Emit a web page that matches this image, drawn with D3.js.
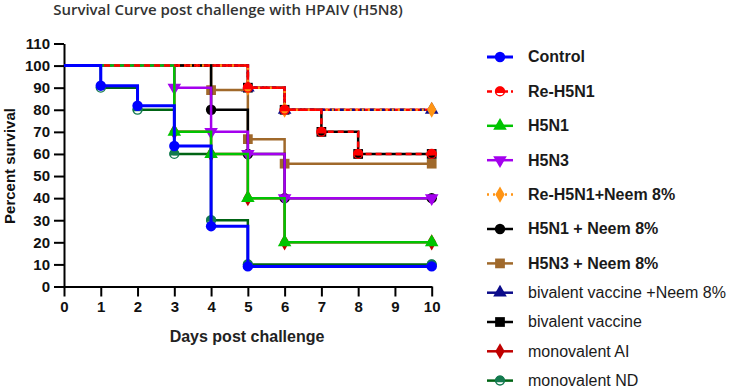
<!DOCTYPE html>
<html>
<head>
<meta charset="utf-8">
<script src="https://cdn.jsdelivr.net/npm/d3@7"></script>
<style>
  body { margin: 0; background: #fff; }
  svg { display: block; font-family: "Liberation Sans", Arial, sans-serif; }
</style>
</head>
<body>
<svg id="chart" width="729" height="388"></svg>
<script>
// tick labels
var xTicks = [0, 1, 2, 3, 4, 5, 6, 7, 8, 9, 10];
var yTicks = [0, 10, 20, 30, 40, 50, 60, 70, 80, 90, 100, 110];

// group names (legend order)
var groups = ['Control', 'Re-H5N1', 'H5N1', 'H5N3', 'Re-H5N1+Neem 8%', 'H5N1 + Neem 8%',
  'H5N3 + Neem 8%', 'bivalent vaccine +Neem 8%', 'bivalent vaccine', 'monovalent AI', 'monovalent ND'];

// days at which survival changes, and percent survival from that day
var controlDays = [0, 1, 2, 3, 4, 5, 10];
var controlSurv = [100, 90.9, 81.8, 63.6, 27.3, 9.1, 9.1];
var reH5N1Days = [0, 5, 6, 7, 8, 10];
var reH5N1Surv = [100, 90, 80, 70, 60, 60];
var h5n1Days = [0, 3, 4, 5, 6, 10];
var h5n1Surv = [100, 70, 60, 40, 20, 20];
var h5n3Days = [0, 3, 4, 5, 6, 10];
var h5n3Surv = [100, 90, 70, 60, 40, 40];
var reH5N1NeemDays = [0, 5, 6, 10];
var reH5N1NeemSurv = [100, 90, 80, 80];
var h5n1NeemDays = [0, 4, 5, 6, 10];
var h5n1NeemSurv = [100, 80, 60, 40, 40];
var h5n3NeemDays = [0, 4, 5, 6, 10];
var h5n3NeemSurv = [100, 88.9, 66.7, 55.6, 55.6];
var bivNeemDays = [0, 5, 6, 10];
var bivNeemSurv = [100, 90, 80, 80];
var bivDays = [0, 5, 6, 7, 8, 10];
var bivSurv = [100, 90, 80, 70, 60, 60];
var monoAIDays = [0, 3, 4, 5, 6, 10];
var monoAISurv = [100, 70, 60, 40, 20, 20];
var monoNDDays = [0, 1, 2, 3, 4, 5, 10];
var monoNDSurv = [100, 90, 80, 60, 30, 10, 10];

var allDays = [controlDays, reH5N1Days, h5n1Days, h5n3Days, reH5N1NeemDays, h5n1NeemDays,
  h5n3NeemDays, bivNeemDays, bivDays, monoAIDays, monoNDDays];
var allSurv = [controlSurv, reH5N1Surv, h5n1Surv, h5n3Surv, reH5N1NeemSurv, h5n1NeemSurv,
  h5n3NeemSurv, bivNeemSurv, bivSurv, monoAISurv, monoNDSurv];

// look of each group
var styles = [
  { color: '#0000ff', marker: 'circle', width: 3 },
  { color: '#ff0000', marker: 'capCircle', width: 2.5, dash: '6,4' },
  { color: '#00c400', marker: 'triangle', width: 2.5 },
  { color: '#a400ee', marker: 'triangleDown', width: 2.5 },
  { color: '#ff9414', marker: 'diamond', width: 2.5, dash: '2,4' },
  { color: '#000000', marker: 'circle', width: 2.5 },
  { color: '#a0692b', marker: 'square', width: 2.5 },
  { color: '#0b0b8a', marker: 'triangle', width: 2.5 },
  { color: '#000000', marker: 'square', width: 2.5 },
  { color: '#c00000', marker: 'diamond', width: 2.5 },
  { color: '#006414', marker: 'capCircle', width: 2.5, markColor: '#137a4f' }
];

var svg = d3.select('#chart');
var x = d3.scaleLinear().domain([0, 10]).range([64, 431.7]);
var y = d3.scaleLinear().domain([0, 110]).range([286.5, 43.5]);

function drawMarker(g, st) {
	var c = st.markColor || st.color;
	if (st.marker === 'capCircle') {
		var r = 5, cy = 1.6, w = Math.sqrt(r * r - cy * cy);
		g.append('circle').attr('r', r - 0.6).attr('fill', 'none').attr('stroke', c).attr('stroke-width', 1.4);
		g.append('path').attr('d', 'M' + (-w) + ',' + cy + 'A' + r + ',' + r + ' 0 1 1 ' + w + ',' + cy + 'Z').attr('fill', c);
		return;
	}
	var type = { circle: d3.symbolCircle, triangle: d3.symbolTriangle, triangleDown: d3.symbolTriangle,
		diamond: d3.symbolDiamond, square: d3.symbolSquare }[st.marker];
	var size = { circle: 85, triangle: 80, triangleDown: 80, diamond: 75, square: 95 }[st.marker];
	g.append('path')
		.attr('d', d3.symbol().type(type).size(size)())
		.attr('transform', st.marker === 'triangleDown' ? 'rotate(180)' : null)
		.attr('fill', c);
}

// axes
var yAxis = svg.append('g').attr('transform', 'translate(64,0)')
	.call(d3.axisLeft(y).tickValues(yTicks).tickSize(10).tickSizeOuter(0).tickPadding(4));
var xAxis = svg.append('g').attr('transform', 'translate(0,286.5)')
	.call(d3.axisBottom(x).tickValues(xTicks).tickSize(10).tickSizeOuter(0).tickPadding(5));
[yAxis, xAxis].forEach(function(a) {
	a.selectAll('path, line').attr('stroke', '#000').attr('stroke-width', 2);
	a.selectAll('text').attr('fill', '#111').style('font-size', '15px').style('font-weight', 'bold')
		.style('font-family', '"Liberation Sans", Arial, sans-serif');
});

// survival curves, drawn last-to-first so the first group sits on top
var line = d3.line().x(function(d) { return x(d[0]); }).y(function(d) { return y(d[1]); })
	.curve(d3.curveStepAfter);
for (var i = groups.length - 1; i >= 0; i--) {
	var st = styles[i];
	var pts = allDays[i].map(function(dd, k) { return [dd, allSurv[i][k]]; });
	var g = svg.append('g');
	if (i === 7) {
		// navy curve shows red dashes from the overlapping curve
		g.append('path').attr('d', line(pts)).attr('fill', 'none')
			.attr('stroke', '#ff0000').attr('stroke-width', st.width);
		g.append('path').attr('d', line(pts)).attr('fill', 'none')
			.attr('stroke', st.color).attr('stroke-width', st.width).attr('stroke-dasharray', '5,5');
	} else {
		g.append('path').attr('d', line(pts)).attr('fill', 'none')
			.attr('stroke', st.color).attr('stroke-width', st.width)
			.attr('stroke-dasharray', st.dash || null);
	}
	pts.slice(1).forEach(function(p) {
		drawMarker(g.append('g').attr('transform', 'translate(' + x(p[0]) + ',' + y(p[1]) + ')'), st);
	});
}

// titles
svg.append('text').attr('x', 228).attr('y', 15).attr('text-anchor', 'middle')
	.style('font-family', '"Open Sans", sans-serif').style('font-weight', 600)
	.style('font-size', '15px').attr('fill', '#333')
	.text('Survival Curve post challenge with HPAIV (H5N8)');
svg.append('text').attr('x', 247).attr('y', 342).attr('text-anchor', 'middle')
	.style('font-size', '16px').style('font-weight', 'bold').attr('fill', '#222')
	.text('Days post challenge');
svg.append('text').attr('transform', 'translate(15,166) rotate(-90)').attr('text-anchor', 'middle')
	.style('font-size', '15px').style('font-weight', 'bold').attr('fill', '#111')
	.text('Percent survival');

// legend
groups.forEach(function(name, i) {
	var st = styles[i];
	var ly = i < 7 ? 57 + i * 34.4 : 263.4 + (i - 6) * 29.3;
	var g = svg.append('g').attr('transform', 'translate(500,' + ly + ')');
	g.append('line').attr('x1', -13).attr('x2', 13).attr('stroke', st.color)
		.attr('stroke-width', st.width).attr('stroke-dasharray', st.dash ? (st.dash === '2,4' ? '2,4' : '5,3') : null);
	drawMarker(g, st);
	g.append('text').attr('x', 28).attr('dy', '0.34em')
		.style('font-size', '16px').style('font-weight', i < 7 ? 'bold' : 'normal')
		.attr('fill', '#1a1a1a').text(name);
});
</script>
</body>
</html>
